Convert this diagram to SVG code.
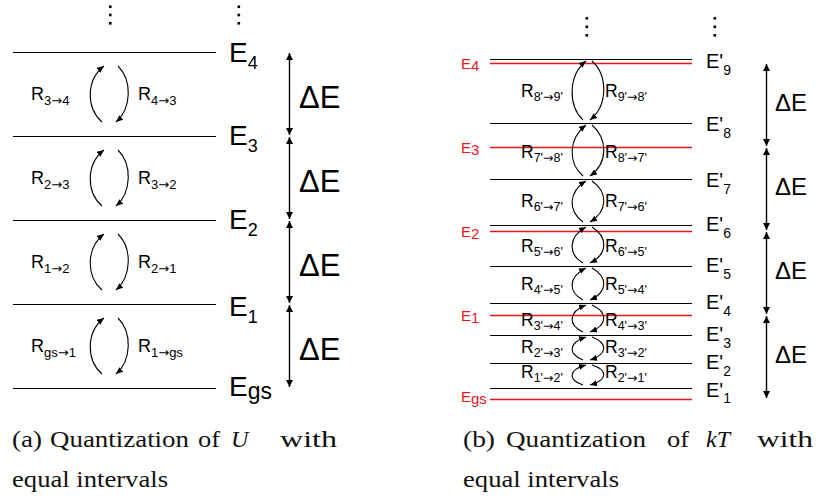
<svg xmlns="http://www.w3.org/2000/svg" width="819" height="499" viewBox="0 0 819 499">
<defs>
<style>
.lv{stroke:#000;stroke-width:1.1;fill:none}
.rl{stroke:#e8161c;stroke-width:1.5;fill:none}
.arc{stroke:#000;stroke-width:1.1;fill:none;marker-end:url(#ah)}
.da{stroke:#000;stroke-width:1.4;fill:none;marker-start:url(#dh);marker-end:url(#dh)}
.t{font-family:"Liberation Sans",Arial,sans-serif;fill:#000}
.ar{font-family:"DejaVu Sans",sans-serif}
.EL{font-size:28px}
.ELs{font-size:18px}
.EP{font-size:20px}
.EPs{font-size:14px}
.RL{font-size:18px}
.RLs{font-size:13px}
.RR{font-size:17.5px}
.RRs{font-size:12.5px}
.dE{font-size:31px}
.dE2{font-size:24px}
.red{fill:#e8161c;font-size:15px}
.cap{font-family:"Liberation Serif","Times New Roman",serif;font-size:24px;fill:#111}
</style>
<marker id="ah" markerWidth="8" markerHeight="6" refX="7" refY="3" orient="auto" markerUnits="userSpaceOnUse"><path d="M0,0 L7,3 L0,6 z" fill="#000"/></marker>
<marker id="dh" markerWidth="8" markerHeight="8" refX="7" refY="3.5" orient="auto-start-reverse" markerUnits="userSpaceOnUse"><path d="M0,0 L7,3.5 L0,7 z" fill="#000"/></marker>
</defs>

<!-- Panel (a) -->
<g id="a-dots">
<rect x="109" y="5.5" width="2.6" height="2.6"/><rect x="109" y="13.7" width="2.6" height="2.6"/><rect x="109" y="22" width="2.6" height="2.6"/>
<rect x="237.5" y="5.5" width="2.6" height="2.6"/><rect x="237.5" y="13.7" width="2.6" height="2.6"/><rect x="237.5" y="22" width="2.6" height="2.6"/>
</g>
<g id="a-E4"><line class="lv" x1="13" y1="52.5" x2="216" y2="52.5"/><text class="t EL" x="229" y="62">E<tspan class="ELs" dy="7">4</tspan></text></g>
<g id="a-E3"><line class="lv" x1="13" y1="136.5" x2="216" y2="136.5"/><text class="t EL" x="229" y="145">E<tspan class="ELs" dy="7">3</tspan></text></g>
<g id="a-E2"><line class="lv" x1="13" y1="220.5" x2="216" y2="220.5"/><text class="t EL" x="229" y="229">E<tspan class="ELs" dy="7">2</tspan></text></g>
<g id="a-E1"><line class="lv" x1="13" y1="304.5" x2="216" y2="304.5"/><text class="t EL" x="229" y="316">E<tspan class="ELs" dy="7">1</tspan></text></g>
<g id="a-Egs"><line class="lv" x1="13" y1="388.5" x2="216" y2="388.5"/><text class="t EL" x="229" y="396">E<tspan style="font-size:23px" dy="3">gs</tspan></text></g>

<g id="a-labels">
<text class="t RL" x="31" y="100">R<tspan class="RLs" dy="5">3<tspan class="ar">→</tspan>4</tspan></text>
<text class="t RL" x="138" y="100">R<tspan class="RLs" dy="5">4<tspan class="ar">→</tspan>3</tspan></text>
<text class="t RL" x="31" y="184">R<tspan class="RLs" dy="5">2<tspan class="ar">→</tspan>3</tspan></text>
<text class="t RL" x="138" y="184">R<tspan class="RLs" dy="5">3<tspan class="ar">→</tspan>2</tspan></text>
<text class="t RL" x="31" y="268">R<tspan class="RLs" dy="5">1<tspan class="ar">→</tspan>2</tspan></text>
<text class="t RL" x="138" y="268">R<tspan class="RLs" dy="5">2<tspan class="ar">→</tspan>1</tspan></text>
<text class="t RL" x="31" y="352">R<tspan class="RLs" dy="5">gs<tspan class="ar">→</tspan>1</tspan></text>
<text class="t RL" x="138" y="352">R<tspan class="RLs" dy="5">1<tspan class="ar">→</tspan>gs</tspan></text>
<text class="t dE" x="299" y="108">ΔE</text>
<text class="t dE" x="299" y="192">ΔE</text>
<text class="t dE" x="299" y="276">ΔE</text>
<text class="t dE" x="299" y="360">ΔE</text>
</g>

<!-- Panel (b) -->
<g id="b-dots">
<rect x="585.5" y="17" width="2.6" height="2.6"/><rect x="585.5" y="25.5" width="2.6" height="2.6"/><rect x="585.5" y="34" width="2.6" height="2.6"/>
<rect x="713.5" y="17" width="2.6" height="2.6"/><rect x="713.5" y="25.5" width="2.6" height="2.6"/><rect x="713.5" y="34" width="2.6" height="2.6"/>
</g>
<g id="b-E4"><line class="rl" x1="490" y1="63.5" x2="692" y2="63.5"/><text class="t red" x="461" y="69">E<tspan dy="2">4</tspan></text></g>
<g id="b-E3"><line class="rl" x1="490" y1="147.5" x2="692" y2="147.5"/><text class="t red" x="461" y="153">E<tspan dy="2">3</tspan></text></g>
<g id="b-E2"><line class="rl" x1="490" y1="231.5" x2="692" y2="231.5"/><text class="t red" x="461" y="237">E<tspan dy="2">2</tspan></text></g>
<g id="b-E1"><line class="rl" x1="490" y1="315.5" x2="692" y2="315.5"/><text class="t red" x="461" y="321">E<tspan dy="2">1</tspan></text></g>
<g id="b-Egs"><line class="rl" x1="490" y1="399.5" x2="692" y2="399.5"/><text class="t red" x="461" y="402">E<tspan dy="2">gs</tspan></text></g>

<g id="b-Ep9"><line class="lv" x1="490" y1="59.5" x2="692" y2="59.5"/><text class="t EP" x="706" y="68">E'<tspan class="EPs" dy="7">9</tspan></text></g>
<g id="b-Ep8"><line class="lv" x1="490" y1="123.5" x2="692" y2="123.5"/><text class="t EP" x="706" y="131">E'<tspan class="EPs" dy="7">8</tspan></text></g>
<g id="b-Ep7"><line class="lv" x1="490" y1="179.5" x2="692" y2="179.5"/><text class="t EP" x="706" y="187">E'<tspan class="EPs" dy="7">7</tspan></text></g>
<g id="b-Ep6"><line class="lv" x1="490" y1="225.5" x2="692" y2="225.5"/><text class="t EP" x="706" y="231">E'<tspan class="EPs" dy="7">6</tspan></text></g>
<g id="b-Ep5"><line class="lv" x1="490" y1="266.5" x2="692" y2="266.5"/><text class="t EP" x="706" y="272">E'<tspan class="EPs" dy="7">5</tspan></text></g>
<g id="b-Ep4"><line class="lv" x1="490" y1="303.5" x2="692" y2="303.5"/><text class="t EP" x="706" y="309">E'<tspan class="EPs" dy="7">4</tspan></text></g>
<g id="b-Ep3"><line class="lv" x1="490" y1="335.5" x2="692" y2="335.5"/><text class="t EP" x="706" y="341">E'<tspan class="EPs" dy="7">3</tspan></text></g>
<g id="b-Ep2"><line class="lv" x1="490" y1="363.5" x2="692" y2="363.5"/><text class="t EP" x="706" y="369">E'<tspan class="EPs" dy="7">2</tspan></text></g>
<g id="b-Ep1"><line class="lv" x1="490" y1="388.5" x2="692" y2="388.5"/><text class="t EP" x="706" y="397">E'<tspan class="EPs" dy="6">1</tspan></text></g>

<g id="b-labels">
<text class="t RR" x="521" y="97">R<tspan class="RRs" dy="4">8'<tspan class="ar">→</tspan>9'</tspan></text>
<text class="t RR" x="605" y="97">R<tspan class="RRs" dy="4">9'<tspan class="ar">→</tspan>8'</tspan></text>
<text class="t RR" x="521" y="158">R<tspan class="RRs" dy="4">7'<tspan class="ar">→</tspan>8'</tspan></text>
<text class="t RR" x="605" y="158">R<tspan class="RRs" dy="4">8'<tspan class="ar">→</tspan>7'</tspan></text>
<text class="t RR" x="521" y="207">R<tspan class="RRs" dy="4">6'<tspan class="ar">→</tspan>7'</tspan></text>
<text class="t RR" x="605" y="207">R<tspan class="RRs" dy="4">7'<tspan class="ar">→</tspan>6'</tspan></text>
<text class="t RR" x="521" y="252">R<tspan class="RRs" dy="4">5'<tspan class="ar">→</tspan>6'</tspan></text>
<text class="t RR" x="605" y="252">R<tspan class="RRs" dy="4">6'<tspan class="ar">→</tspan>5'</tspan></text>
<text class="t RR" x="521" y="290">R<tspan class="RRs" dy="4">4'<tspan class="ar">→</tspan>5'</tspan></text>
<text class="t RR" x="605" y="290">R<tspan class="RRs" dy="4">5'<tspan class="ar">→</tspan>4'</tspan></text>
<text class="t RR" x="521" y="325.5">R<tspan class="RRs" dy="4">3'<tspan class="ar">→</tspan>4'</tspan></text>
<text class="t RR" x="605" y="325.5">R<tspan class="RRs" dy="4">4'<tspan class="ar">→</tspan>3'</tspan></text>
<text class="t RR" x="521" y="352.5">R<tspan class="RRs" dy="4">2'<tspan class="ar">→</tspan>3'</tspan></text>
<text class="t RR" x="605" y="352.5">R<tspan class="RRs" dy="4">3'<tspan class="ar">→</tspan>2'</tspan></text>
<text class="t RR" x="521" y="378">R<tspan class="RRs" dy="4">1'<tspan class="ar">→</tspan>2'</tspan></text>
<text class="t RR" x="605" y="378">R<tspan class="RRs" dy="4">2'<tspan class="ar">→</tspan>1'</tspan></text>
<text class="t dE2" x="775" y="111">ΔE</text>
<text class="t dE2" x="775" y="195">ΔE</text>
<text class="t dE2" x="775" y="279">ΔE</text>
<text class="t dE2" x="775" y="363">ΔE</text>
</g>

<g id="connectors">
<path class="arc" d="M102,122 C86,108 86,80 104,66"/>
<path class="arc" d="M118,66 C132,80 132,108 116,122"/>
<path class="arc" d="M102,206 C86,192 86,164 104,150"/>
<path class="arc" d="M118,150 C132,164 132,192 116,206"/>
<path class="arc" d="M102,290 C86,276 86,248 104,234"/>
<path class="arc" d="M118,234 C132,248 132,276 116,290"/>
<path class="arc" d="M102,374 C86,360 86,332 104,318"/>
<path class="arc" d="M118,318 C132,332 132,360 116,374"/>
<line class="da" x1="289.5" y1="53" x2="289.5" y2="135"/>
<line class="da" x1="289.5" y1="137" x2="289.5" y2="219"/>
<line class="da" x1="289.5" y1="221" x2="289.5" y2="303"/>
<line class="da" x1="289.5" y1="305" x2="289.5" y2="387"/>
<path class="arc" d="M583,120 C568,105.5 568,75.5 586,61"/>
<path class="arc" d="M592,61 C608,75.5 608,105.5 590,120"/>
<path class="arc" d="M583,176 C568,163 568,139 586,125"/>
<path class="arc" d="M592,125 C608,139 608,163 590,176"/>
<path class="arc" d="M583,222 C568,211 568,192 586,181"/>
<path class="arc" d="M592,181 C608,192 608,211 590,222"/>
<path class="arc" d="M583,263 C568,254 568,237 586,227"/>
<path class="arc" d="M592,227 C608,237 608,254 590,263"/>
<path class="arc" d="M583,300 C568,292 568,277 586,268"/>
<path class="arc" d="M592,268 C608,277 608,292 590,300"/>
<path class="arc" d="M583,332 C568,325 568,312 586,305"/>
<path class="arc" d="M592,305 C608,312 608,325 590,332"/>
<path class="arc" d="M583,360 C568,354 568,343 586,337"/>
<path class="arc" d="M592,337 C608,343 608,354 590,360"/>
<path class="arc" d="M583,385 C568,380 568,370 586,365"/>
<path class="arc" d="M592,365 C608,370 608,380 590,385"/>
<line class="da" x1="766.5" y1="64" x2="766.5" y2="146"/>
<line class="da" x1="766.5" y1="148" x2="766.5" y2="230"/>
<line class="da" x1="766.5" y1="232" x2="766.5" y2="314"/>
<line class="da" x1="766.5" y1="316" x2="766.5" y2="398"/>
</g>

<g id="captions">
<text class="cap" x="12" y="447" textLength="30" lengthAdjust="spacingAndGlyphs">(a)</text>
<text class="cap" x="50" y="447" textLength="139" lengthAdjust="spacingAndGlyphs">Quantization</text>
<text class="cap" x="198" y="447" textLength="22" lengthAdjust="spacingAndGlyphs">of</text>
<text class="cap" x="231" y="447" font-style="italic">U</text>
<text class="cap" x="280" y="447" textLength="57" lengthAdjust="spacingAndGlyphs">with</text>
<text class="cap" x="12" y="487" textLength="156" lengthAdjust="spacingAndGlyphs">equal intervals</text>
<text class="cap" x="463" y="447" textLength="32" lengthAdjust="spacingAndGlyphs">(b)</text>
<text class="cap" x="506" y="447" textLength="140" lengthAdjust="spacingAndGlyphs">Quantization</text>
<text class="cap" x="667" y="447" textLength="22" lengthAdjust="spacingAndGlyphs">of</text>
<text class="cap" x="706" y="447" font-style="italic">kT</text>
<text class="cap" x="757" y="447" textLength="56" lengthAdjust="spacingAndGlyphs">with</text>
<text class="cap" x="463" y="487" textLength="156" lengthAdjust="spacingAndGlyphs">equal intervals</text>
</g>
</svg>
